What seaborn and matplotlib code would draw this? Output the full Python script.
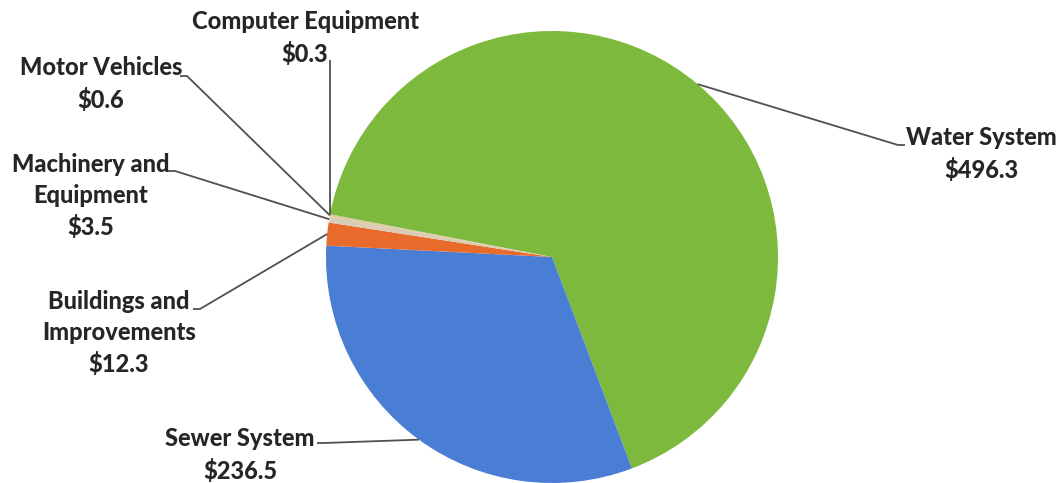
import numpy as np
import matplotlib.pyplot as plt
import seaborn as sns

# slice data, clockwise from the top-left
categories = ["Water System", "Sewer System", "Buildings and\nImprovements",
              "Machinery and\nEquipment", "Motor Vehicles", "Computer Equipment"]
values = [496.3, 236.5, 12.3, 3.5, 0.6, 0.3]
colors = ["#7cb93c", "#4a7dd4", "#e96b2b", "#d9cdb8", "#f0c24e", "#a9bcd8"]

W, H = 1062, 483
# label layout in pixels (x from left, y from top)
label_xy = [(981, 154), (240, 455), (119, 333), (91, 196), (101, 84), (305, 38)]
leader_start = [(905, 145), (317, 443), (193, 309), (168, 171), (180, 76), (330, 60)]
tick_dir = [-1, 1, 1, 1, 1, 0]

sns.set_theme(style="white")
plt.rcParams["font.family"] = ["Lato", "DejaVu Sans"]

fig = plt.figure(figsize=(W / 100, H / 100), dpi=100)
ax = fig.add_axes([0, 0, 1, 1])

cx, cy, r = 552, H - 257, 226
wedges, _ = ax.pie(values, colors=colors, startangle=169.1, counterclock=False,
                   center=(cx, cy), radius=r, frame=True,
                   wedgeprops=dict(linewidth=0))
ax.set_xlim(0, W)
ax.set_ylim(0, H)
ax.set_aspect("equal")
ax.axis("off")

for w, name, val, (lx, ly), (sx, sy), td in zip(wedges, categories, values,
                                                label_xy, leader_start, tick_dir):
    ang = np.deg2rad((w.theta1 + w.theta2) / 2)
    px, py = cx + r * np.cos(ang), cy + r * np.sin(ang)
    sy = H - sy
    xs = [sx, sx + 7 * td, px] if td else [sx, px]
    ys = [sy, sy, py] if td else [sy, py]
    ax.plot(xs, ys, color="#505050", lw=1.3, solid_capstyle="butt")
    ax.text(lx, H - ly, f"{name}\n${val}", ha="center", va="center",
            fontsize=17, fontweight="black", color="#262626", linespacing=1.42)

fig.savefig("out.png", dpi=100)
